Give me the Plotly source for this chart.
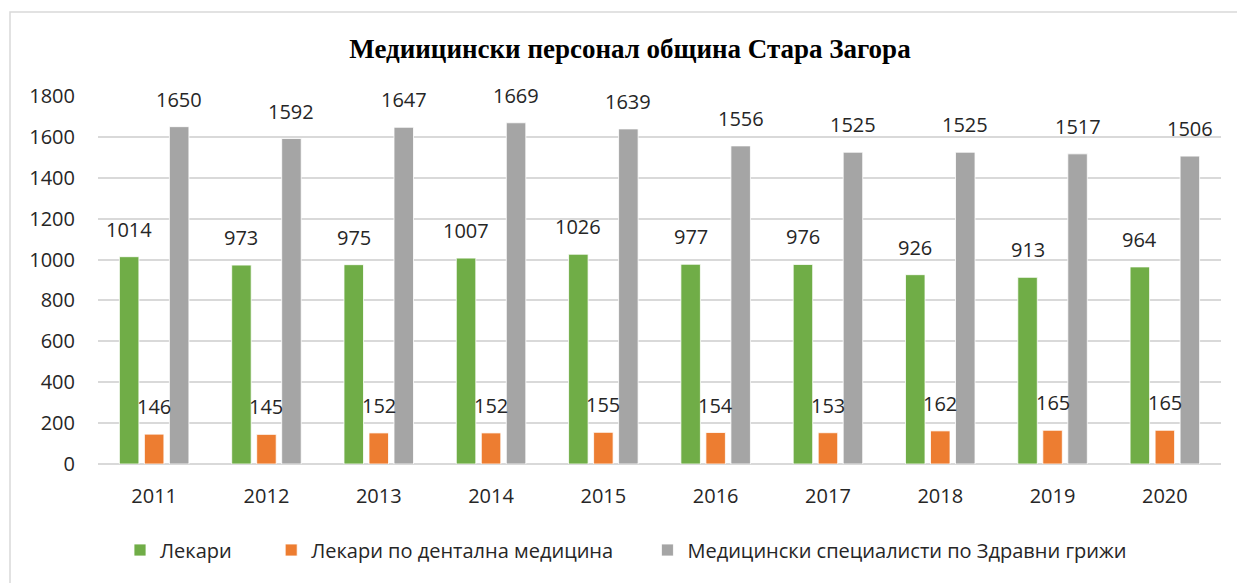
import plotly.graph_objects as go

years = ["2011", "2012", "2013", "2014", "2015", "2016", "2017", "2018", "2019", "2020"]
doctors = [1014, 973, 975, 1007, 1026, 977, 976, 926, 913, 964]
dentists = [146, 145, 152, 152, 155, 154, 153, 162, 165, 165]
nurses = [1650, 1592, 1647, 1669, 1639, 1556, 1525, 1525, 1517, 1506]
series_names = ["Лекари", "Лекари по дентална медицина", "Медицински специалисти по Здравни грижи"]
colors = ["#70AD47", "#ED7D31", "#A5A5A5"]
y_ticks = [0, 200, 400, 600, 800, 1000, 1200, 1400, 1600, 1800]

FONT = "Open Sans"
W, H = 1237, 583
ml, mr, mt, mb = 98, 16, 96, 119
plot_w = W - ml - mr
plot_h = H - mt - mb

fig = go.Figure()
pads = ["\u00a0" * 6 + "\u2009", "\u00a0" * 5 + "\u2009", ""]
for i, (name, vals) in enumerate(zip(series_names, [doctors, dentists, nurses])):
    fig.add_trace(go.Bar(
        x=years, y=vals, name=name + pads[i],
        marker=dict(color=colors[i], line=dict(color="white", width=0.8)),
    ))

# data labels above bars (x given as category index)
cat_px = plot_w / len(years)
slot = cat_px * (1 - 0.332) / 3
for i, vals in enumerate([doctors, dentists, nurses]):
    for k, v in enumerate(vals):
        fig.add_annotation(
            x=k, y=v, text=str(v), showarrow=False, xref="x", yref="y",
            xshift=(i - 1) * slot, yanchor="bottom", yshift=12,
            font=dict(family=FONT, size=20, color="#262626"),
        )

fig.add_shape(type="rect", xref="paper", yref="paper",
              x0=(10 - ml) / plot_w, x1=(1260 - ml) / plot_w,
              y0=-(H + 40 - mt - plot_h) / plot_h, y1=(H - mb - 12) / plot_h,
              line=dict(color="#D9D9D9", width=1.5), fillcolor="rgba(0,0,0,0)", layer="below")

fig.update_layout(
    width=W, height=H,
    margin=dict(l=ml, r=mr, t=mt, b=mb, autoexpand=False),
    paper_bgcolor="white", plot_bgcolor="white",
    barmode="group", bargap=0.332, bargroupgap=0.22,
    title=dict(text="<b>Медиицински персонал община Стара Загора</b>",
               x=630 / W, xanchor="center", y=1 - 49 / H, yanchor="middle",
               font=dict(family="Liberation Serif", size=27, color="black")),
    font=dict(family=FONT, size=20, color="#262626"),
    showlegend=True,
    legend=dict(orientation="h", x=(140 - 20 - ml) / plot_w, xanchor="left",
                y=-(550 - 464) / plot_h, yanchor="middle",
                font=dict(family=FONT, size=20, color="#262626"),
                itemclick=False, traceorder="normal"),
    xaxis=dict(type="category", range=[-0.5, len(years) - 0.5], autorange=False,
               showgrid=False, showline=False, ticks="",
               ticklabelstandoff=18, tickfont=dict(family=FONT, size=20, color="#262626")),
    yaxis=dict(range=[0, 1800], autorange=False, tickvals=y_ticks, showgrid=True,
               gridcolor="#D9D9D9", gridwidth=1.5, zeroline=True, zerolinecolor="#D9D9D9",
               zerolinewidth=1.5, showline=False, ticks="", ticklabelstandoff=22,
               tickfont=dict(family=FONT, size=20, color="#262626")),
)

fig.write_html("out.html", config={"displayModeBar": False},
               post_script="document.body.style.margin='0';document.body.style.overflow='hidden';")
